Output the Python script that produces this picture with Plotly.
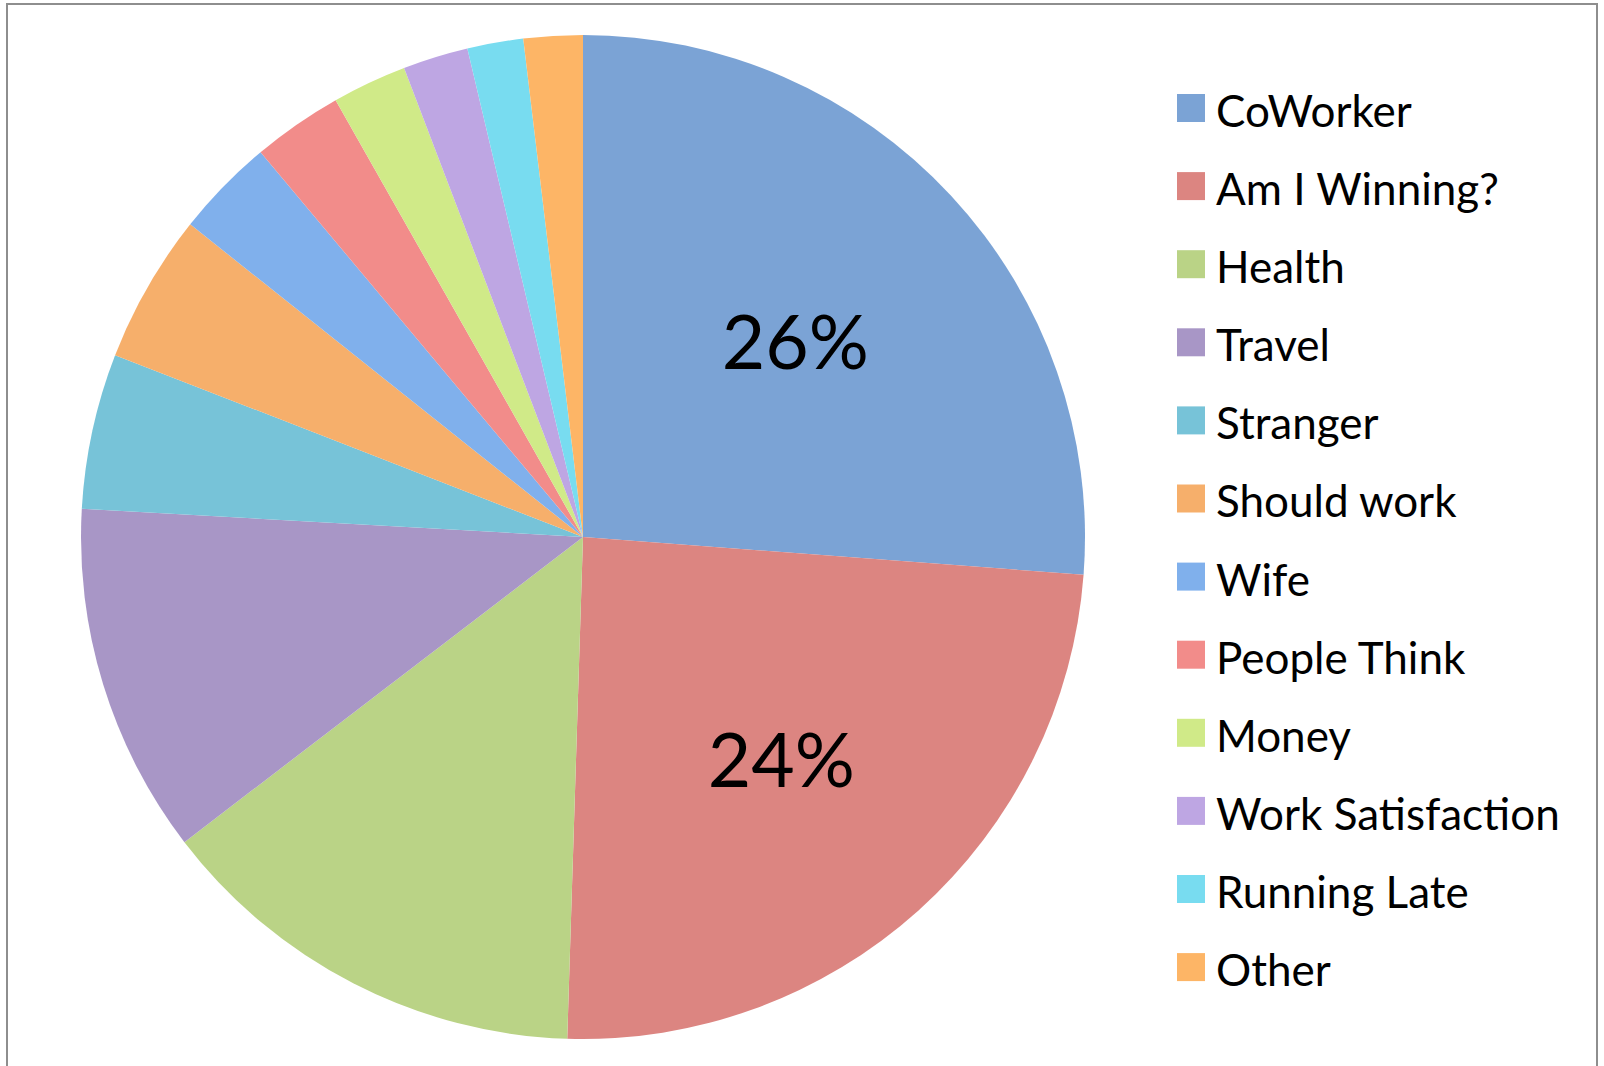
import plotly.graph_objects as go

# Share of responses per category (percent)
categories = [
    "CoWorker", "Am I Winning?", "Health", "Travel", "Stranger", "Should work",
    "Wife", "People Think", "Money", "Work Satisfaction", "Running Late", "Other",
]
shares = [26.2, 24.3, 14.1, 11.3, 5.0, 4.8, 3.2, 2.9, 2.4, 2.1, 1.8, 1.9]
labelled = [True, True] + [False] * 10

# Office-style palette (mid tones of the gradient fills)
colors = [
    "#7BA3D5", "#DC8581", "#BAD386", "#A896C6", "#77C3D8", "#F6AF6B",
    "#80B0EC", "#F28C8A", "#D0EA88", "#BEA6E3", "#78DCF0", "#FDB566",
]

W, H = 1604, 1066
FONT = "Lato, 'Open Sans', sans-serif"

fig = go.Figure(
    go.Pie(
        labels=categories,
        values=shares,
        sort=False,
        direction="clockwise",
        rotation=0,
        marker=dict(colors=colors, line=dict(width=0)),
        texttemplate=["%{percent:.0%}" if s else "" for s in labelled],
        textposition=["inside" if s else "none" for s in labelled],
        insidetextorientation="horizontal",
        textfont=dict(family=FONT, size=75, color="#000000"),
        showlegend=False,
        hoverinfo="label+percent",
        domain=dict(x=[81 / W, 1085 / W], y=[1 - 1039 / H, 1 - 35 / H]),
    )
)

# Legend drawn as swatches + text so the swatch size and row spacing can be set
shapes = []
annotations = []
row0, row_gap = 108, 78.1
for i, (name, col) in enumerate(zip(categories, colors)):
    cy = row0 + i * row_gap
    shapes.append(dict(
        type="rect", xref="paper", yref="paper",
        x0=1177 / W, x1=1205 / W,
        y0=1 - (cy + 14) / H, y1=1 - (cy - 14) / H,
        fillcolor=col, line=dict(width=0),
    ))
    annotations.append(dict(
        text=name, xref="paper", yref="paper",
        x=1214 / W, y=1 - (cy + 2) / H,
        xanchor="left", yanchor="middle", showarrow=False,
        font=dict(family=FONT, size=44, color="#000000"),
    ))

# Chart-area border
shapes.append(dict(
    type="rect", xref="paper", yref="paper",
    x0=7 / W, x1=1597 / W, y0=-0.05, y1=1 - 4 / H,
    line=dict(color="#8E8E8E", width=2), fillcolor="rgba(0,0,0,0)", layer="below",
))

fig.update_layout(
    width=W, height=H,
    margin=dict(l=0, r=0, t=0, b=0),
    paper_bgcolor="#FFFFFF", plot_bgcolor="#FFFFFF",
    shapes=shapes, annotations=annotations,
    font=dict(family=FONT),
)

fig.write_html("out.html")
